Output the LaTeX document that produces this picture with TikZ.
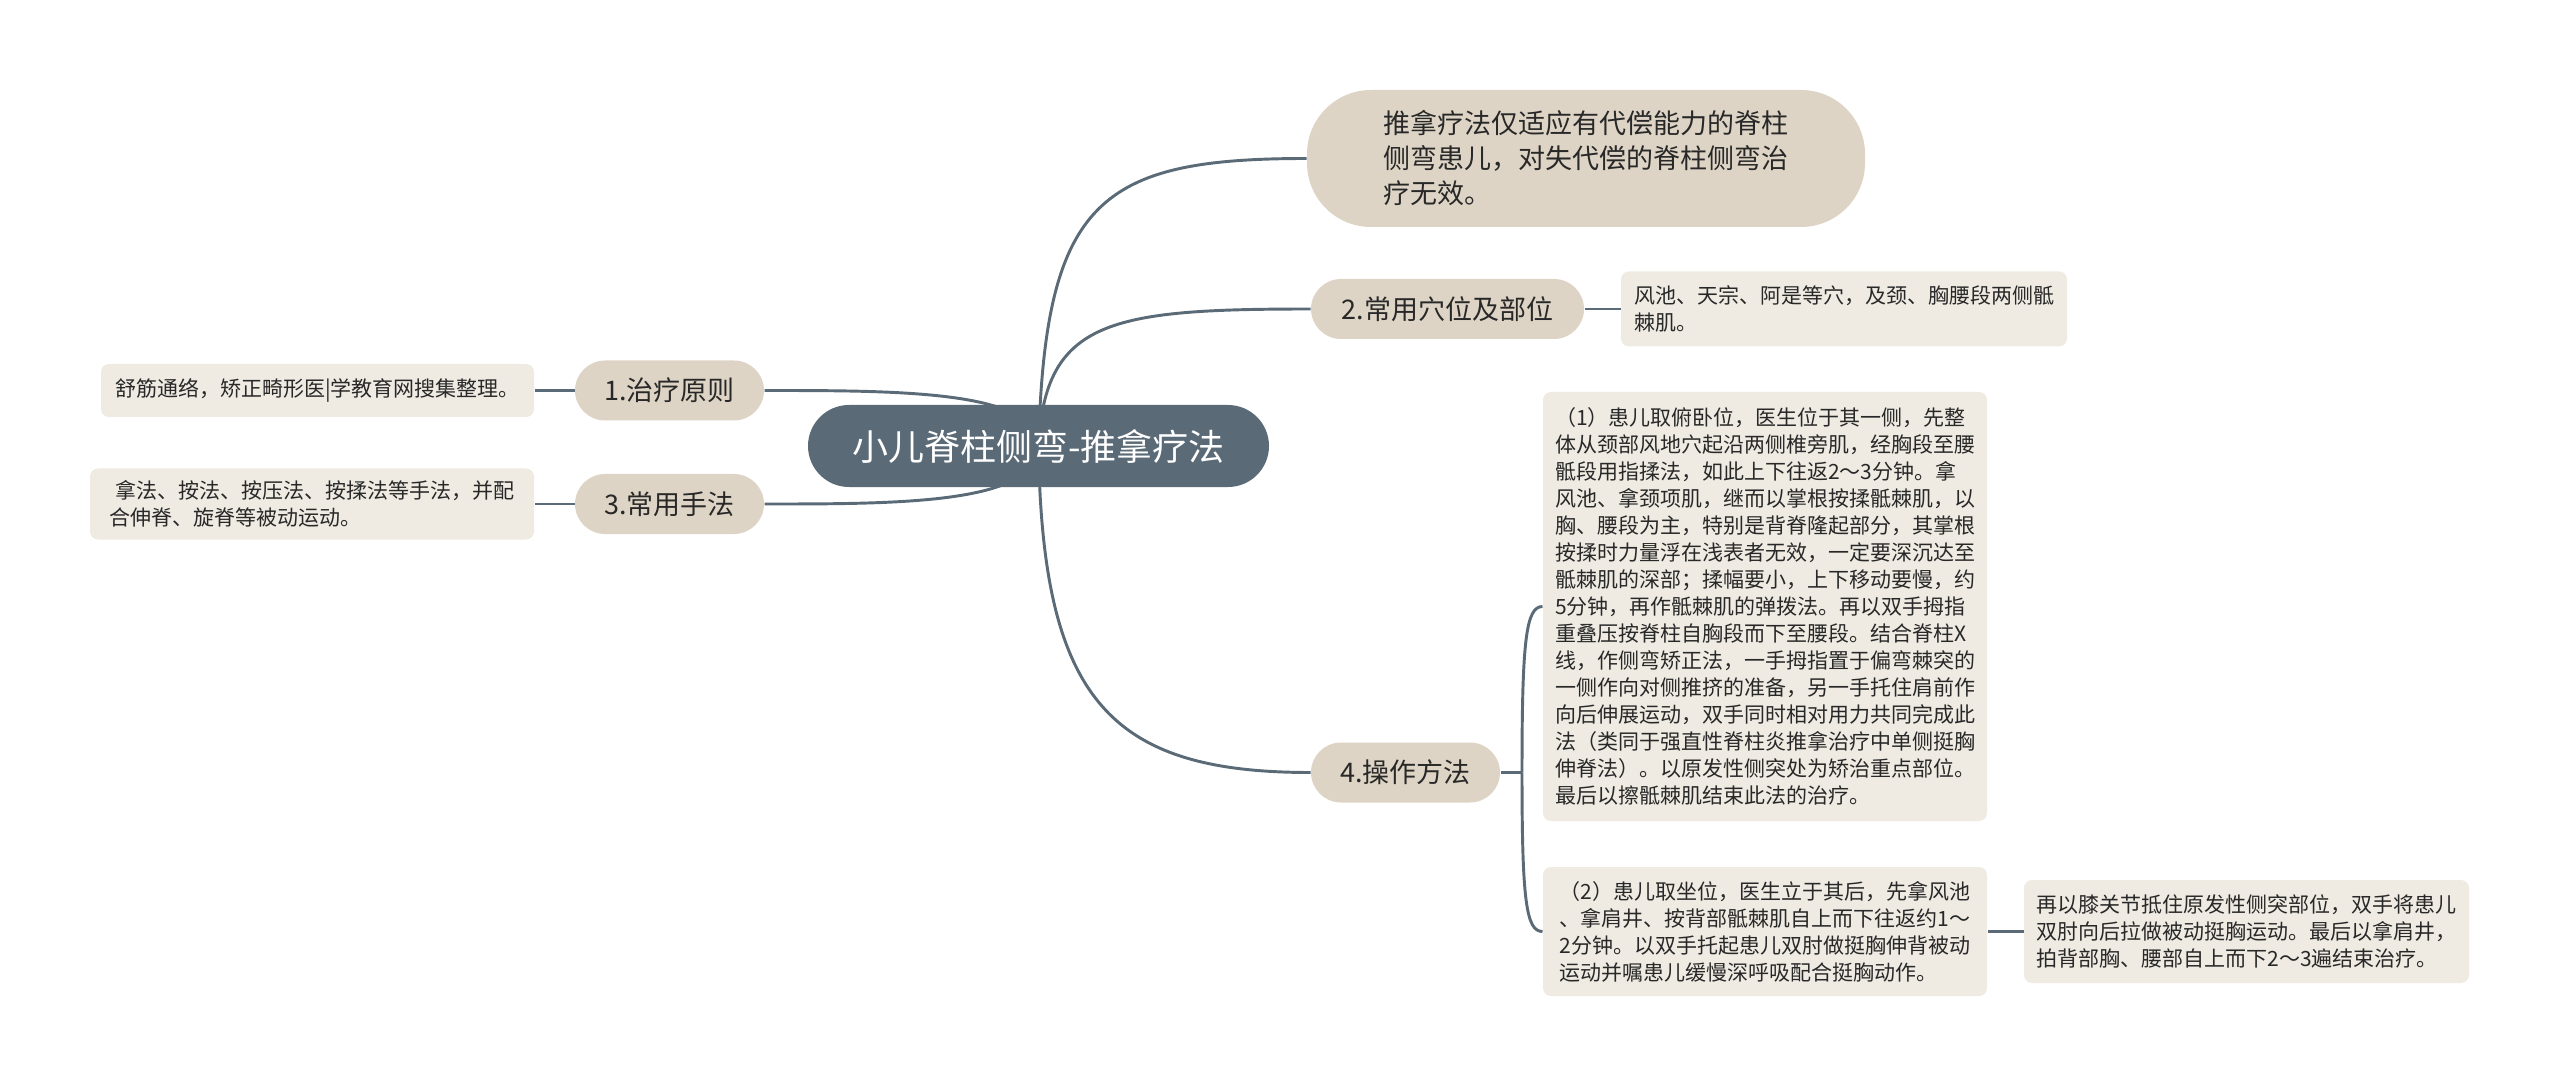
\documentclass[tikz,border=0pt]{standalone}
\usepackage{fontspec}
\setmainfont{Noto Sans CJK SC}
\usetikzlibrary{backgrounds}

\definecolor{rootfill}{RGB}{90,106,118}
\definecolor{mainfill}{RGB}{221,212,197}
\definecolor{leaffill}{RGB}{239,235,227}
\definecolor{linecol}{RGB}{90,106,118}
\definecolor{textcol}{RGB}{40,40,40}

\tikzset{every picture/.style={line width=0.75pt}}
\tikzset{
  rootnode/.style={fill=rootfill, text=white, rounded corners=30.75pt, minimum width=345.75pt, minimum height=61.5pt, inner sep=0pt, font=\fontsize{27}{32}\selectfont},
  topic/.style={fill=mainfill, text=textcol, rounded corners=22.5pt, minimum height=45pt, inner sep=0pt, font=\fontsize{20.25}{26.25}\selectfont},
  leaf/.style={fill=leaffill, text=textcol, rounded corners=6pt, inner sep=0pt, align=left, font=\fontsize{15.75}{20.25}\selectfont},
  link/.style={draw=linecol, line width=2.2pt},
}

\begin{document}
\begin{tikzpicture}[x=0.75pt,y=0.75pt,yscale=-1,xscale=1]
\useasboundingbox (0,0) rectangle (2560,1087);

% Root
\node [rootnode] (root) at (1038.5,446) {小儿脊柱侧弯-推拿疗法};

% Main topics
\node [topic, minimum width=418.5pt, minimum height=102.75pt, rounded corners=48pt, align=left] (note) at (1586,158.5) {推拿疗法仅适应有代偿能力的脊柱\\侧弯患儿，对失代偿的脊柱侧弯治\\疗无效。};
\node [topic, minimum width=204.75pt] (place) at (1447.5,309) {2.常用穴位及部位};
\node [topic, minimum width=141.75pt] (rule) at (669.5,390.5) {1.治疗原则};
\node [topic, minimum width=141.75pt] (hand) at (669.5,504) {3.常用手法};
\node [topic, minimum width=141.75pt] (oper) at (1405.5,772.5) {4.操作方法};

% Leaves
\node [leaf, minimum width=324.75pt, minimum height=39.75pt] (ruletxt) at (317.5,390.5) {舒筋通络，矫正畸形医|学教育网搜集整理。};
\node [leaf, minimum width=333pt, minimum height=53.25pt] (handtxt) at (312,504) {\hspace*{0.3em}拿法、按法、按压法、按揉法等手法，并配\\合伸脊、旋脊等被动运动。};
\node [leaf, minimum width=334.5pt, minimum height=56.25pt] (placetxt) at (1844,309) {风池、天宗、阿是等穴，及颈、胸腰段两侧骶\\棘肌。};
\node [leaf, minimum width=333pt, minimum height=321.75pt] (op1) at (1765,606.5) {（1）患儿取俯卧位，医生位于其一侧，先整\\体从颈部风地穴起沿两侧椎旁肌，经胸段至腰\\骶段用指揉法，如此上下往返2～3分钟。拿\\风池、拿颈项肌，继而以掌根按揉骶棘肌，以\\胸、腰段为主，特别是背脊隆起部分，其掌根\\按揉时力量浮在浅表者无效，一定要深沉达至\\骶棘肌的深部；揉幅要小，上下移动要慢，约\\5分钟，再作骶棘肌的弹拨法。再以双手拇指\\重叠压按脊柱自胸段而下至腰段。结合脊柱X\\线，作侧弯矫正法，一手拇指置于偏弯棘突的\\一侧作向对侧推挤的准备，另一手托住肩前作\\向后伸展运动，双手同时相对用力共同完成此\\法（类同于强直性脊柱炎推拿治疗中单侧挺胸\\伸脊法）。以原发性侧突处为矫治重点部位。\\最后以擦骶棘肌结束此法的治疗。};
\node [leaf, minimum width=333pt, minimum height=96.75pt] (op2) at (1765,931.5) {（2）患儿取坐位，医生立于其后，先拿风池\\、拿肩井、按背部骶棘肌自上而下往返约1～\\2分钟。以双手托起患儿双肘做挺胸伸背被动\\运动并嘱患儿缓慢深呼吸配合挺胸动作。};
\node [leaf, minimum width=333.75pt, minimum height=77.25pt] (op2b) at (2246.5,931.5) {再以膝关节抵住原发性侧突部位，双手将患儿\\双肘向后拉做被动挺胸运动。最后以拿肩井，\\拍背部胸、腰部自上而下2～3遍结束治疗。};

\coordinate (fork) at (1522,772.5);

% Connectors
\begin{pgfonlayer}{background}
\draw [link] (root.center) .. controls (1045,200) and (1100,158.5) .. (note.west);
\draw [link] (root.center) .. controls (1045,320) and (1110,309) .. (place.west);
\draw [link] (root.center) .. controls (1042,700) and (1110,772.5) .. (oper.west);
\draw [link] (root.center) .. controls (1038,390.5) and (900,390.5) .. (rule.east);
\draw [link] (root.center) .. controls (1038,504) and (900,504) .. (hand.east);
\draw [link] (rule.west) -- (ruletxt.east);
\draw [link] (hand.west) -- (handtxt.east);
\draw [link] (place.east) -- (placetxt.west);
\draw [link] (oper.east) -- (fork);
\draw [link] (fork) .. controls (1522,640) and (1526,606.5) .. (op1.west);
\draw [link] (fork) .. controls (1522,900) and (1526,931.5) .. (op2.west);
\draw [link] (op2.east) -- (op2b.west);
\end{pgfonlayer}

\end{tikzpicture}
\end{document}
